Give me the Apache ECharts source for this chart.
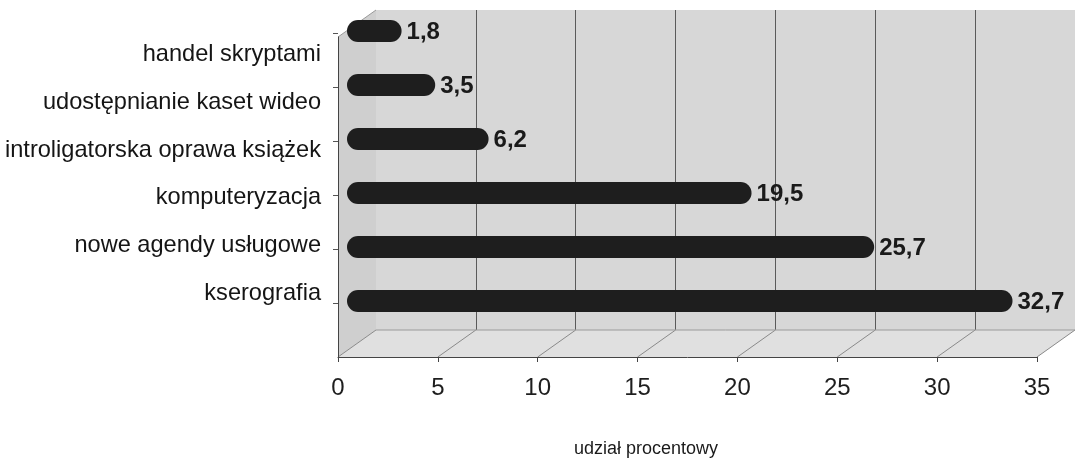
<!DOCTYPE html>
<html><head><meta charset="utf-8">
<script src="https://cdn.jsdelivr.net/npm/echarts@6/dist/echarts.min.js"></script>
<style>html,body{margin:0;padding:0;background:#fff}#c{width:1086px;height:461px}</style>
</head><body><div id="c"></div>
<script>
const categories = ['handel skryptami','udostępnianie kaset wideo','introligatorska oprawa książek','komputeryzacja','nowe agendy usługowe','kserografia'];
const values = [1.8, 3.5, 6.2, 19.5, 25.7, 32.7];
const axisMin = 0, axisMax = 35, axisStep = 5;
const axisTitle = 'udział procentowy';

const FONT = 'Liberation Sans, Arial, sans-serif';
const chart = echarts.init(document.getElementById('c'), null, {renderer:'canvas'});
const opt = {
  animation:false,
  backgroundColor:'#ffffff',
  title:{text:axisTitle, left:569, top:435, textStyle:{fontFamily:FONT, fontSize:18, fontWeight:'normal', color:'#1a1a1a'}},
  grid:[
    {left:338, top:37, width:699, height:320},               // 0 front axis
    {left:376, top:10, width:699, height:320, show:true, backgroundColor:'#d7d7d7', borderWidth:0}, // 1 back wall
    {left:366, top:4, width:692, height:324},                // 2 bars
    {left:338, top:31, width:699, height:286},               // 3 category labels
    {left:338, top:6, width:699, height:324}                 // 4 left ticks
  ],
  xAxis:[
    {gridIndex:0, type:'value', min:axisMin, max:axisMax, interval:axisStep,
      axisLine:{show:true, lineStyle:{color:'#444', width:1}},
      axisTick:{show:true, length:5, lineStyle:{color:'#444'}},
      axisLabel:{margin:19, fontFamily:FONT, fontSize:24, color:'#1e1e1e'},
      splitLine:{show:false}},
    {gridIndex:1, type:'value', min:axisMin, max:axisMax, interval:axisStep,
      axisLine:{show:false}, axisTick:{show:false}, axisLabel:{show:false},
      splitLine:{show:true, showMinLine:false, showMaxLine:false, lineStyle:{color:'#5a5a5a', width:1}}},
    {gridIndex:2, type:'value', min:axisMin, max:axisMax, show:false, splitLine:{show:false}},
    {gridIndex:3, type:'value', min:axisMin, max:axisMax, show:false, splitLine:{show:false}},
    {gridIndex:4, type:'value', min:axisMin, max:axisMax, show:false, splitLine:{show:false}}
  ],
  yAxis:[
    {gridIndex:0, type:'category', data:categories, inverse:true,
      axisLine:{show:true, lineStyle:{color:'#444'}}, axisTick:{show:false}, axisLabel:{show:false}},
    {gridIndex:1, type:'category', data:categories, show:false},
    {gridIndex:2, type:'category', data:categories, inverse:true, show:false},
    {gridIndex:3, type:'category', data:categories, inverse:true,
      axisLine:{show:false}, axisTick:{show:false},
      axisLabel:{margin:17, fontFamily:FONT, fontSize:23.6, color:'#151515'}},
    {gridIndex:4, type:'category', data:categories, inverse:true,
      axisLine:{show:false}, axisLabel:{show:false},
      axisTick:{show:true, alignWithLabel:true, length:5, lineStyle:{color:'#555'}}}
  ],
  series:[{
    type:'custom', xAxisIndex:2, yAxisIndex:2, z:5,
    encode:{x:0, y:1},
    data: values.map((v,i)=>[v, i]),
    renderItem:function(params, api){
      const v = api.value(0), idx = api.value(1);
      const c0 = api.coord([0, idx]);
      const c1 = api.coord([v, idx]);
      const x0 = c0[0] - 19, h = 22;
      return {type:'group', children:[
        {type:'rect', shape:{x:x0, y:c1[1]-h/2, width:c1[0]-x0, height:h, r:11},
          style:{fill:'#1e1e1e'}},
        {type:'text', x:c1[0]+5, y:c1[1]+1,
          style:{text:String(v).replace('.', ','), fill:'#1a1a1a', font:'bold 24px '+FONT, textVerticalAlign:'middle', textAlign:'left'}}
      ]};
    }
  }]
};
chart.setOption(opt);

// 3D box decoration derived from the axes
const fp = v => chart.convertToPixel({xAxisIndex:0, yAxisIndex:0}, [v, 0]);
const bp = v => chart.convertToPixel({xAxisIndex:1, yAxisIndex:1}, [v, 0]);
const frontY = 357, backY = 330, frontTop = 37, backTop = 10;
const f0 = fp(axisMin)[0], f1 = fp(axisMax)[0], b0 = bp(axisMin)[0], b1 = bp(axisMax)[0];
const g = [];
g.push({type:'polygon', z:-1, shape:{points:[[f0,frontTop],[b0,backTop],[b0,backY],[f0,frontY]]}, style:{fill:'#cfcfcf'}});
g.push({type:'polygon', z:-1, shape:{points:[[f0,frontY],[f1,frontY],[b1,backY],[b0,backY]]}, style:{fill:'#e0e0e0'}});
for (let v = axisMin; v <= axisMax; v += axisStep) {
  g.push({type:'line', z:0, shape:{x1:fp(v)[0], y1:frontY, x2:bp(v)[0], y2:backY}, style:{stroke:'#8a8a8a', lineWidth:1}});
}
g.push({type:'line', z:0, shape:{x1:b0, y1:backY, x2:b1, y2:backY}, style:{stroke:'#9a9a9a', lineWidth:1}});
g.push({type:'line', z:0, shape:{x1:f0, y1:frontTop, x2:b0, y2:backTop}, style:{stroke:'#9a9a9a', lineWidth:1}});
chart.setOption({graphic:g});
</script></body></html>
